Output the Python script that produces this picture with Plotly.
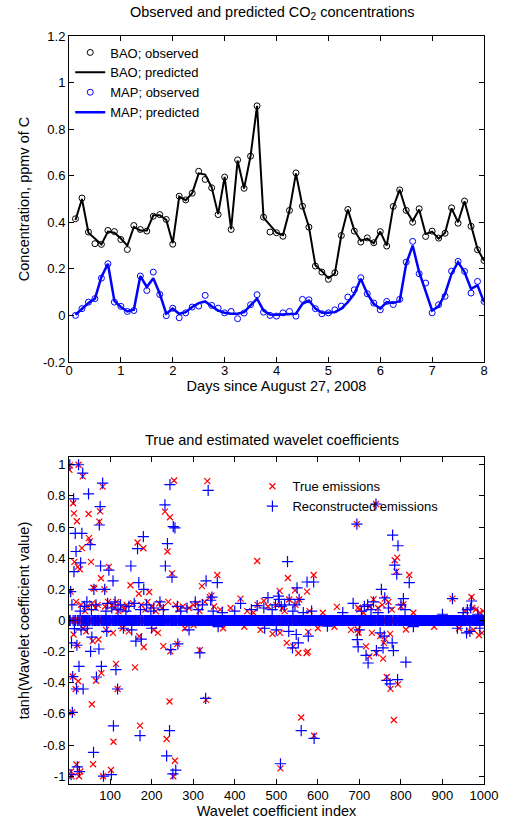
import plotly.graph_objects as go

# ---------------- Top panel data ----------------
days = [0.125, 0.25, 0.375, 0.5, 0.625, 0.75, 0.875, 1.0,
        1.125, 1.25, 1.375, 1.5, 1.625, 1.75, 1.875, 2.0,
        2.125, 2.25, 2.375, 2.5, 2.625, 2.75, 2.875, 3.0,
        3.125, 3.25, 3.375, 3.5, 3.625, 3.75, 3.875, 4.0,
        4.125, 4.25, 4.375, 4.5, 4.625, 4.75, 4.875, 5.0,
        5.125, 5.25, 5.375, 5.5, 5.625, 5.75, 5.875, 6.0,
        6.125, 6.25, 6.375, 6.5, 6.625, 6.75, 6.875, 7.0,
        7.125, 7.25, 7.375, 7.5, 7.625, 7.75, 7.875, 8.0]

bao_observed = [0.415, 0.504, 0.358, 0.308, 0.305, 0.365, 0.36, 0.326, 0.283, 0.386, 0.369, 0.362,
                0.426, 0.433, 0.412, 0.306, 0.512, 0.496, 0.525, 0.619, 0.584, 0.548, 0.433, 0.594,
                0.369, 0.668, 0.546, 0.684, 0.90, 0.422, 0.358, 0.355, 0.34, 0.451, 0.612, 0.469,
                0.379, 0.212, 0.186, 0.155, 0.183, 0.343, 0.455, 0.362, 0.315, 0.333, 0.312, 0.36,
                0.298, 0.468, 0.539, 0.451, 0.40, 0.458, 0.339, 0.362, 0.332, 0.353, 0.462, 0.396,
                0.491, 0.383, 0.282, 0.236]
bao_predicted = [0.41, 0.50, 0.355, 0.33, 0.305, 0.36, 0.355, 0.33, 0.30, 0.38, 0.365, 0.365,
                 0.43, 0.43, 0.41, 0.31, 0.51, 0.495, 0.525, 0.61, 0.605, 0.55, 0.435, 0.595,
                 0.37, 0.665, 0.545, 0.685, 0.90, 0.42, 0.385, 0.355, 0.345, 0.45, 0.61, 0.47,
                 0.38, 0.215, 0.19, 0.16, 0.18, 0.345, 0.455, 0.365, 0.32, 0.33, 0.31, 0.36,
                 0.30, 0.465, 0.54, 0.45, 0.405, 0.455, 0.35, 0.36, 0.33, 0.355, 0.46, 0.40,
                 0.49, 0.385, 0.285, 0.235]
map_observed = [0.0, 0.029, 0.057, 0.072, 0.16, 0.222, 0.057, 0.039, 0.017, 0.021, 0.169, 0.107,
                0.186, 0.09, -0.001, 0.031, -0.01, 0.011, 0.036, 0.04, 0.086, 0.043, 0.031, 0.011,
                0.017, -0.014, 0.01, 0.046, 0.089, 0.014, 0.0, -0.003, 0.011, 0.017, -0.003, 0.069,
                0.067, 0.029, 0.007, 0.011, 0.024, 0.04, 0.079, 0.11, 0.162, 0.093, 0.053, 0.024,
                0.06, 0.047, 0.069, 0.229, 0.318, 0.179, 0.139, 0.011, 0.046, 0.082, 0.19, 0.232,
                0.189, 0.096, 0.146, 0.06]
map_predicted = [0.003, 0.029, 0.053, 0.072, 0.165, 0.222, 0.062, 0.036, 0.017, 0.024, 0.169, 0.122,
                 0.16, 0.093, 0.007, 0.029, 0.007, 0.014, 0.036, 0.053, 0.06, 0.039, 0.021, 0.011,
                 0.007, 0.007, 0.014, 0.043, 0.072, 0.021, 0.004, 0.003, 0.004, 0.004, 0.007, 0.05,
                 0.064, 0.029, 0.011, 0.011, 0.014, 0.029, 0.057, 0.093, 0.157, 0.093, 0.05, 0.029,
                 0.057, 0.053, 0.062, 0.222, 0.30, 0.186, 0.107, 0.021, 0.039, 0.093, 0.179, 0.229,
                 0.186, 0.114, 0.129, 0.057]

top_yticks = [-0.2, 0, 0.2, 0.4, 0.6, 0.8, 1, 1.2]
top_yticklabels = ["-0.2", "0", "0.2", "0.4", "0.6", "0.8", "1", "1.2"]
top_xticks = [0, 1, 2, 3, 4, 5, 6, 7, 8]

# ---------------- Bottom panel data ----------------
n_coeffs = 1000
# visible non-zero true coefficients (index, tanh value); all others are ~0
true_index = [2, 3, 24, 34, 11, 13, 20, 48, 74, 76, 82, 254, 334, 232, 244, 166, 180, 238, 49, 51,
              32, 14, 22, 27, 54, 97, 249, 78, 321, 5, 60, 62, 86, 149, 169, 194,
              454, 528, 358, 590, 574, 545, 508, 340, 344, 414, 455, 470, 531, 555, 546, 646,
              740, 694, 791, 785, 789, 820, 734, 761, 806, 697, 924, 970, 972,
              18, 30, 40, 45, 57, 65, 70, 88, 95, 105, 110, 115, 120, 128, 135, 140, 155, 175,
              185, 190, 200, 210, 218, 225, 240, 258, 265, 275, 290, 300, 310, 315, 328, 350,
              365, 390, 430, 445, 480, 500, 515, 520, 580, 612, 700, 710, 725, 745, 755, 770,
              778, 800, 830, 955, 980, 990, 998,
              12, 9, 10, 21, 23, 17, 19, 56, 58, 72, 79, 66, 114, 118, 160, 107, 108, 170, 172,
              181, 228, 243, 245, 262, 316, 236, 256, 252, 59, 6, 7, 25, 28, 83, 102, 331,
              491, 509, 510, 525, 541, 553, 573, 577, 560, 591, 423, 301, 696, 698, 716, 724,
              741, 757, 759, 774, 766, 775, 793, 783, 812, 988, 966, 576,
              35, 42, 90, 130, 145, 205, 215, 280, 372, 462, 600, 640, 680, 730, 750, 762,
              880, 940, 975, 995]
true_value = [0.968, 0.996, 1.0, 0.925, 0.753, 0.688, 0.637, 0.684, 0.635, 0.701, 0.86, 0.899,
              0.895, 0.699, 0.663, 0.501, 0.464, 0.443, 0.529, 0.508,
              0.465, 0.376, 0.344, 0.329, 0.376, 0.344, 0.303, 0.271, 0.221, 0.185, 0.21, 0.205,
              0.2, 0.226, 0.172, 0.183,
              0.382, 0.273, 0.292, 0.292, 0.185, 0.193, 0.19, 0.15, 0.16, 0.14, 0.1, 0.126,
              0.135, 0.135, 0.1, 0.087,
              0.748, 0.619, 0.404, 0.387, 0.314, 0.292, 0.136, 0.14, 0.103, 0.082, 0.14, 0.151,
              0.08,
              0.12, 0.1, 0.06, 0.09, 0.11, 0.08, 0.1, 0.09, 0.12, 0.1, 0.08, 0.12, 0.06, 0.09,
              0.07, 0.1, 0.11, 0.1, 0.07, 0.12, 0.09, 0.06, 0.11, 0.08, 0.12, 0.1, 0.07, 0.09,
              0.08, 0.1, 0.11, 0.06, 0.12, 0.09, 0.07, 0.08, 0.06, 0.05, 0.09, 0.1, 0.08, 0.06,
              0.06, 0.05, 0.07, 0.05, 0.09, 0.08, 0.1, 0.12, 0.07, 0.09, 0.05, 0.06, 0.07, 0.05,
              0.06,
              -0.09, -0.59, -0.36, -0.159, -0.39, -0.44, -0.925, -0.538, -0.133, -0.122, -0.338,
              -0.387, -0.279, -0.44, -0.301, -0.08, -0.779, -0.101, -0.675, -0.17, -0.165, -0.52,
              -0.198, -0.15, -0.19, -0.761, -0.901, -1.0, -0.923, -0.97, -1.0, -1.0, -0.97, -1.0,
              -0.96, -0.51,
              -0.086, -0.08, -0.95, -0.144, -0.166, -0.209, -0.209, -0.073, -0.623, -0.74, -0.04,
              -0.03, -0.058, -0.079, -0.166, -0.23, -0.209, -0.245, -0.144, -0.086, -0.363,
              -0.439, -0.41, -0.639, -0.058, -0.095, -0.07, -0.2,
              -0.05, -0.07, -0.06, -0.05, -0.07, -0.06, -0.08, -0.05, -0.05, -0.06, -0.05, -0.04,
              -0.06, -0.08, -0.1, -0.12, -0.04, -0.05, -0.06, -0.08]

rec_index = [3, 24, 34, 82, 244, 336, 12, 48, 76, 74, 232, 252, 256, 16, 32, 52, 180, 166, 238,
             18, 13, 29, 77, 97, 150, 233, 249, 107, 331, 5, 61, 87, 169, 181,
             358, 527, 574, 590, 550, 505, 507, 342, 345, 414, 454, 480, 531, 555, 545,
             740, 694, 780, 793, 785, 790, 820, 753, 734, 761, 806, 685, 720, 924, 970, 968,
             8, 28, 38, 44, 55, 66, 90, 94, 104, 112, 119, 125, 138, 145, 158, 173, 188, 198,
             205, 220, 228, 262, 270, 285, 305, 312, 322, 348, 370, 400, 440, 470, 490, 498,
             512, 520, 540, 565, 585, 660, 705, 712, 728, 745, 770, 800, 810, 900, 950, 960, 985,
             14, 7, 20, 56, 73, 53, 162, 175, 246, 263, 316, 25, 10, 19, 35, 79, 67, 114, 118, 9,
             108, 172, 243, 236, 258, 60, 6, 26, 84, 103, 21, 251,
             330, 510, 560, 591, 539, 553, 577, 623, 695, 697, 716, 721, 741, 757, 779, 782,
             766, 774, 792, 812, 966, 936,
             30, 45, 92, 132, 152, 200, 290, 360, 472, 500, 530, 548, 700, 750, 760, 830, 958, 990]
rec_value = [1.0, 1.0, 0.946, 0.882, 0.873, 0.835, 0.781, 0.813, 0.731, 0.613, 0.742, 0.603,
             0.595, 0.559, 0.559, 0.487, 0.538, 0.462, 0.494,
             0.443, 0.314, 0.37, 0.35, 0.323, 0.35, 0.35, 0.279, 0.254, 0.254, 0.185, 0.2, 0.2,
             0.243, 0.2,
             0.243, 0.378, 0.247, 0.247, 0.21, 0.156, 0.135, 0.13, 0.15, 0.11, 0.095, 0.147,
             0.135, 0.135, 0.1,
             0.748, 0.619, 0.548, 0.48, 0.355, 0.297, 0.243, 0.2, 0.12, 0.145, 0.14, 0.11, 0.1,
             0.14, 0.125, 0.08,
             0.1, 0.06, 0.09, 0.12, 0.07, 0.1, 0.06, 0.11, 0.08, 0.12, 0.07, 0.1, 0.06, 0.09,
             0.11, 0.07, 0.1, 0.06, 0.08, 0.12, 0.07, 0.09, 0.06, 0.08, 0.12, 0.07, 0.1, 0.06,
             0.05, 0.06, 0.07, 0.08, 0.07, 0.1, 0.09, 0.1, 0.06, 0.05, 0.06, 0.05, 0.06, 0.09,
             0.07, 0.05, 0.08, 0.1, 0.07, 0.04, 0.05, 0.07, 0.04,
             -0.052, -0.144, -0.159, -0.107, -0.183, -0.198, -0.133, -0.12, -0.187, -0.15,
             -0.208, -0.295, -0.36, -0.44, -0.44, -0.295, -0.363, -0.316, -0.44, -0.59,
             -0.677, -0.74, -0.707, -0.869, -0.961, -0.847, -0.99, -0.97, -1.0, -0.99, -0.94,
             -0.985,
             -0.5, -0.92, -0.707, -0.757, -0.176, -0.144, -0.101, -0.036, -0.123, -0.17,
             -0.224, -0.273, -0.194, -0.176, -0.144, -0.194, -0.385, -0.407, -0.38, -0.267,
             -0.07, -0.05,
             -0.06, -0.05, -0.07, -0.05, -0.06, -0.05, -0.06, -0.04, -0.05, -0.06, -0.07, -0.09,
             -0.06, -0.08, -0.1, -0.04, -0.08, -0.05]

bottom_xticks = [100, 200, 300, 400, 500, 600, 700, 800, 900, 1000]
bottom_yticks = [-1, -0.8, -0.6, -0.4, -0.2, 0, 0.2, 0.4, 0.6, 0.8, 1]
bottom_yticklabels = ["-1", "-0.8", "-0.6", "-0.4", "-0.2", "0", "0.2", "0.4", "0.6", "0.8", "1"]

coeff_index = list(range(1, n_coeffs + 1))
true_coeffs = [0.0] * n_coeffs
for i, v in zip(true_index, true_value):
    true_coeffs[i - 1] = v
rec_coeffs = [0.0] * n_coeffs
for i, v in zip(rec_index, rec_value):
    rec_coeffs[i - 1] = v

# ---------------- Figure ----------------
FONT = "Liberation Sans, Arial, Helvetica, sans-serif"
BLUE = "rgb(0,0,255)"
RED = "rgb(255,0,0)"
LABEL_SIZE = 14.5
TICK_SIZE = 13
LEGEND_SIZE = 13

fig = go.Figure()

fig.add_trace(go.Scatter(x=days, y=bao_observed, mode="markers", name="BAO; observed",
                         marker=dict(symbol="circle-open", size=6, color="black",
                                     line=dict(width=1, color="black")),
                         xaxis="x", yaxis="y", legend="legend"))
fig.add_trace(go.Scatter(x=days, y=bao_predicted, mode="lines", name="BAO; predicted",
                         line=dict(color="black", width=2),
                         xaxis="x", yaxis="y", legend="legend"))
fig.add_trace(go.Scatter(x=days, y=map_observed, mode="markers", name="MAP; observed",
                         marker=dict(symbol="circle-open", size=6, color=BLUE,
                                     line=dict(width=1, color=BLUE)),
                         xaxis="x", yaxis="y", legend="legend"))
fig.add_trace(go.Scatter(x=days, y=map_predicted, mode="lines", name="MAP; predicted",
                         line=dict(color=BLUE, width=2.5),
                         xaxis="x", yaxis="y", legend="legend"))

fig.add_trace(go.Scatter(x=coeff_index, y=true_coeffs, mode="markers", name="True emissions",
                         marker=dict(symbol="x-thin", size=6, color=RED,
                                     line=dict(width=1.2, color=RED)),
                         xaxis="x2", yaxis="y2", legend="legend2"))
fig.add_trace(go.Scatter(x=coeff_index, y=rec_coeffs, mode="markers",
                         name="Reconstructed emissions",
                         marker=dict(symbol="cross-thin", size=8, color=BLUE,
                                     line=dict(width=1.2, color=BLUE)),
                         xaxis="x2", yaxis="y2", legend="legend2"))

axis_common = dict(showline=True, linecolor="black", linewidth=1, mirror="ticks",
                   ticks="inside", ticklen=5, tickcolor="black", tickwidth=1,
                   showgrid=False, zeroline=False, automargin=False,
                   tickfont=dict(family=FONT, size=TICK_SIZE, color="black"))

fig.update_layout(
    width=507, height=822,
    margin=dict(l=69, r=23, t=36, b=38),
    paper_bgcolor="white", plot_bgcolor="white",
    font=dict(family=FONT, size=TICK_SIZE, color="black"),
    xaxis=dict(domain=[0, 1], anchor="y", range=[0, 8], tickvals=top_xticks,
               ticklabelstandoff=-4,
               title=dict(text="Days since August 27, 2008", standoff=0,
                          font=dict(family=FONT, size=LABEL_SIZE)),
               **axis_common),
    yaxis=dict(domain=[0.5642, 1], anchor="x", range=[-0.2, 1.2], tickvals=top_yticks,
               ticktext=top_yticklabels,
               title=dict(text="Concentration, ppmv of C", standoff=9,
                          font=dict(family=FONT, size=LABEL_SIZE)),
               **axis_common),
    xaxis2=dict(domain=[0, 1], anchor="y2", range=[1, 1000], tickvals=bottom_xticks,
                ticklabelstandoff=-1,
                title=dict(text="Wavelet coefficient index", standoff=0,
                           font=dict(family=FONT, size=LABEL_SIZE)),
                **axis_common),
    yaxis2=dict(domain=[0, 0.4372], anchor="x2", range=[-1.05, 1.05], tickvals=bottom_yticks,
                ticktext=bottom_yticklabels,
                title=dict(text="tanh(Wavelet coefficient value)", standoff=9,
                           font=dict(family=FONT, size=LABEL_SIZE)),
                **axis_common),
    legend=dict(x=0.003, y=0.998, xanchor="left", yanchor="top", bgcolor="rgba(0,0,0,0)",
                borderwidth=0, font=dict(family=FONT, size=LEGEND_SIZE), itemwidth=30),
    legend2=dict(x=0.442, y=0.418, xanchor="left", yanchor="top", bgcolor="rgba(0,0,0,0)",
                 borderwidth=0, font=dict(family=FONT, size=LEGEND_SIZE), itemwidth=30),
    annotations=[
        dict(text="Observed and predicted CO<sub>2</sub> concentrations", xref="paper",
             yref="paper", x=0.49, y=1.031, xanchor="center", yanchor="middle",
             showarrow=False, font=dict(family=FONT, size=LABEL_SIZE)),
        dict(text="True and estimated wavelet coefficients", xref="paper", yref="paper",
             x=0.49, y=0.4599, xanchor="center", yanchor="middle", showarrow=False,
             font=dict(family=FONT, size=LABEL_SIZE)),
    ],
)

fig.write_html("out.html")
